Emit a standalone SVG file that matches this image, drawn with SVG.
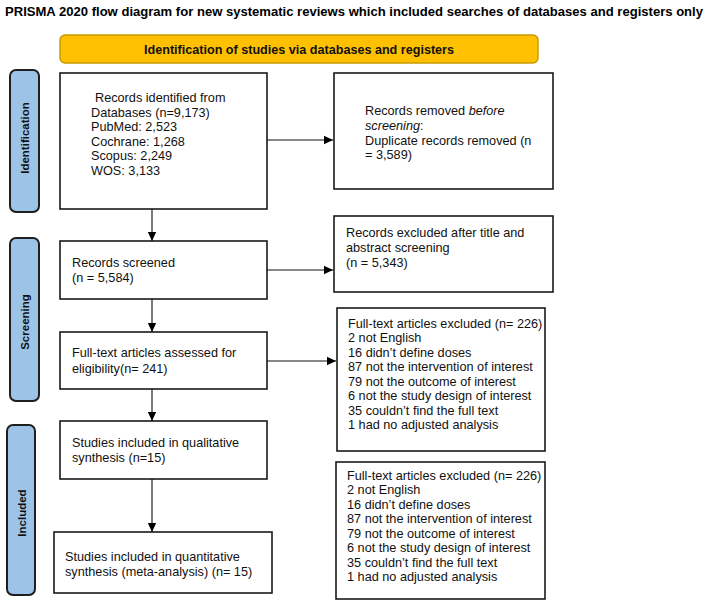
<svg xmlns="http://www.w3.org/2000/svg" width="708" height="601" viewBox="0 0 708 601">
<defs>
<marker id="ah" markerWidth="10" markerHeight="10" refX="9" refY="5" orient="auto" markerUnits="userSpaceOnUse">
<path d="M0,0.8 L9,5 L0,9.2 Z" fill="#000"/>
</marker>
<style>
.box{fill:#fff;stroke:#1a1a1a;stroke-width:1.6}
.phase{fill:#9dc3e6;stroke:#1f1f1f;stroke-width:2}
.t{font-family:"Liberation Sans",Arial,sans-serif;font-size:12.7px;fill:#111}
.pl{font-family:"Liberation Sans",Arial,sans-serif;font-size:11.5px;font-weight:bold;fill:#111}
.con{stroke:#111;stroke-width:1.1;fill:none;marker-end:url(#ah)}
</style>
</defs>
<rect width="708" height="601" fill="#fff"/>
<text x="354" y="16" text-anchor="middle" font-family="'Liberation Sans',Arial,sans-serif" font-size="12.5" font-weight="bold" fill="#000" textLength="698" lengthAdjust="spacingAndGlyphs">PRISMA 2020 flow diagram for new systematic reviews which included searches of databases and registers only</text>

<g id="header">
<rect x="60" y="35" width="478" height="28" rx="5" fill="#ffc000" stroke="#c89b00" stroke-width="1.5"/>
<text x="299" y="54" text-anchor="middle" font-family="'Liberation Sans',Arial,sans-serif" font-size="12.5" font-weight="bold" fill="#111" textLength="310" lengthAdjust="spacingAndGlyphs">Identification of studies via databases and registers</text>
</g>

<g id="phase-identification">
<rect class="phase" x="10" y="70" width="29" height="142" rx="6"/>
<text class="pl" transform="translate(28.5,138) rotate(-90)" text-anchor="middle">Identification</text>
</g>
<g id="phase-screening">
<rect class="phase" x="10" y="238" width="29" height="163" rx="6"/>
<text class="pl" transform="translate(28.5,322) rotate(-90)" text-anchor="middle">Screening</text>
</g>
<g id="phase-included">
<rect class="phase" x="7" y="425" width="28" height="170" rx="6"/>
<text class="pl" transform="translate(25.5,513) rotate(-90)" text-anchor="middle">Included</text>
</g>

<g id="records-identified">
<rect class="box" x="60" y="73" width="207" height="136"/>
<text class="t" x="95" y="102">Records identified from</text>
<text class="t" x="91" y="116.5">Databases (n=9,173)</text>
<text class="t" x="91" y="131">PubMed: 2,523</text>
<text class="t" x="91" y="145.5">Cochrane: 1,268</text>
<text class="t" x="91" y="160">Scopus: 2,249</text>
<text class="t" x="91" y="174.5">WOS: 3,133</text>
</g>

<g id="records-removed">
<rect class="box" x="334" y="73" width="219" height="116"/>
<text class="t" x="365" y="115">Records removed <tspan font-style="italic">before</tspan></text>
<text class="t" x="365" y="130"><tspan font-style="italic">screening</tspan>:</text>
<text class="t" x="365" y="144.5">Duplicate records removed (n</text>
<text class="t" x="365" y="159">=  3,589)</text>
</g>

<g id="records-screened">
<rect class="box" x="60" y="241" width="207" height="58"/>
<text class="t" x="72" y="267">Records screened</text>
<text class="t" x="72" y="282">(n = 5,584)</text>
</g>

<g id="records-excluded">
<rect class="box" x="334" y="216" width="219" height="76"/>
<text class="t" x="346" y="237">Records excluded after title and</text>
<text class="t" x="346" y="252">abstract screening</text>
<text class="t" x="346" y="267">(n = 5,343)</text>
</g>

<g id="fulltext-assessed">
<rect class="box" x="60" y="332" width="207" height="57"/>
<text class="t" x="72" y="357">Full-text articles assessed for</text>
<text class="t" x="72" y="373">eligibility(n= 241)</text>
</g>

<g id="fulltext-excluded-1">
<rect class="box" x="337" y="308" width="208" height="143"/>
<text class="t" x="348" y="327.5">Full-text articles excluded (n= 226)</text>
<text class="t" x="348" y="342">2 not English</text>
<text class="t" x="348" y="356.5">16 didn’t define doses</text>
<text class="t" x="348" y="371">87 not the intervention of interest</text>
<text class="t" x="348" y="385.5">79 not the outcome of interest</text>
<text class="t" x="348" y="400">6 not the study design of interest</text>
<text class="t" x="348" y="414.5">35 couldn’t find the full text</text>
<text class="t" x="348" y="429">1 had no adjusted analysis</text>
</g>

<g id="qualitative">
<rect class="box" x="60" y="421" width="207" height="58"/>
<text class="t" x="72" y="447">Studies included in qualitative</text>
<text class="t" x="72" y="462">synthesis (n=15)</text>
</g>

<g id="fulltext-excluded-2">
<rect class="box" x="336" y="462" width="209" height="137"/>
<text class="t" x="347" y="479.5">Full-text articles excluded (n= 226)</text>
<text class="t" x="347" y="494">2 not English</text>
<text class="t" x="347" y="508.5">16 didn’t define doses</text>
<text class="t" x="347" y="523">87 not the intervention of interest</text>
<text class="t" x="347" y="537.5">79 not the outcome of interest</text>
<text class="t" x="347" y="552">6 not the study design of interest</text>
<text class="t" x="347" y="566.5">35 couldn’t find the full text</text>
<text class="t" x="347" y="581">1 had no adjusted analysis</text>
</g>

<g id="quantitative">
<rect class="box" x="54" y="532" width="218" height="61"/>
<text class="t" x="65" y="561">Studies included in quantitative</text>
<text class="t" x="65" y="576">synthesis (meta-analysis) (n= 15)</text>
</g>

<g id="connectors">
<line class="con" x1="152" y1="209" x2="152" y2="241"/>
<line class="con" x1="152" y1="299" x2="152" y2="332"/>
<line class="con" x1="152" y1="389" x2="152" y2="421"/>
<line class="con" x1="152" y1="479" x2="152" y2="532"/>
<line class="con" x1="267" y1="140" x2="333" y2="140"/>
<line class="con" x1="267" y1="270" x2="333" y2="270"/>
<line class="con" x1="267" y1="361" x2="336" y2="361"/>
</g>
</svg>
